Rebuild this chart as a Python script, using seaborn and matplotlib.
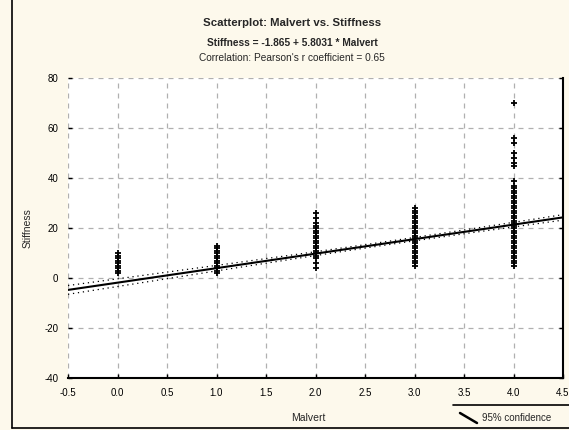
import numpy as np
import pandas as pd
import matplotlib
matplotlib.use("Agg")
import matplotlib.pyplot as plt
import seaborn as sns
from matplotlib.lines import Line2D

# ---------------- data ----------------
TITLE = "Scatterplot: Malvert vs. Stiffness"
EQUATION = "Stiffness = -1.865 + 5.8031 * Malvert"
CORR_TEXT = "Correlation: Pearson's r coefficient = 0.65"
X_LABEL = "Malvert"
Y_LABEL = "Stiffness"
LEGEND_LABEL = "95% confidence"

INTERCEPT = -1.865
SLOPE = 5.8031

x_ticks = [-0.5, 0.0, 0.5, 1.0, 1.5, 2.0, 2.5, 3.0, 3.5, 4.0, 4.5]
x_tick_labels = ["-0.5", "0.0", "0.5", "1.0", "1.5", "2.0", "2.5", "3.0", "3.5", "4.0", "4.5"]
y_ticks = [-40, -20, 0, 20, 40, 60, 80]
y_tick_labels = ["-40", "-20", "0", "20", "40", "60", "80"]

malvert_levels = [0, 1, 2, 3, 4]
stiffness_at_0 = [2, 3, 4, 5, 6, 7, 8, 9, 10]
stiffness_at_1 = [2, 3, 4, 5, 6, 7, 8, 9, 10, 11, 12, 13]
stiffness_at_2 = [4, 6, 8, 9, 10, 11, 12, 13, 14, 15, 16, 17, 18, 19, 20, 21, 22, 24, 26]
stiffness_at_3 = [5, 6, 7, 8, 9, 10, 11, 12, 13, 14, 15, 16, 17, 18, 19, 20,
                  21, 22, 23, 24, 25, 26, 27, 28]
stiffness_at_4 = [5, 6, 7, 8, 9, 10, 11, 12, 13, 14, 15, 16, 17, 18, 19, 20, 21,
                  22, 23, 24, 25, 26, 27, 28, 29, 30, 31, 32, 33, 34, 35, 36, 37,
                  39, 45, 46, 48, 50, 54, 56, 70]
# number of cases behind each column (many overlap on the plot)
cases_per_column = [100, 150, 200, 250, 500]

columns = [stiffness_at_0, stiffness_at_1, stiffness_at_2, stiffness_at_3, stiffness_at_4]
rows = []
for lvl, vals, n in zip(malvert_levels, columns, cases_per_column):
    w = n / len(vals)
    for v in vals:
        rows.append((lvl, v, w))
df = pd.DataFrame(rows, columns=["Malvert", "Stiffness", "weight"])

# regression line and 95% confidence band
xs = np.linspace(x_ticks[0], x_ticks[-1], 200)
fit = INTERCEPT + SLOPE * xs
wts = df["weight"].to_numpy()
xv = df["Malvert"].to_numpy(float)
yv = df["Stiffness"].to_numpy(float)
N = wts.sum()
resid = yv - (INTERCEPT + SLOPE * xv)
s = np.sqrt((wts * resid ** 2).sum() / (N - 2))
xbar = (wts * xv).sum() / N
sxx = (wts * (xv - xbar) ** 2).sum()
se = s * np.sqrt(1.0 / N + (xs - xbar) ** 2 / sxx)
band = pd.DataFrame({"x": xs, "fit": fit, "lo": fit - 1.96 * se, "hi": fit + 1.96 * se})

# ---------------- plot ----------------
W, H = 569, 430
sns.set_theme(style="white")
plt.rcParams["font.family"] = ["Liberation Sans", "DejaVu Sans"]
BG = "#fdf9ec"
fig = plt.figure(figsize=(W / 100, H / 100), dpi=100, facecolor=BG)
ax = fig.add_axes([68 / W, 1 - 378 / H, (563 - 68) / W, (378 - 78) / H])
ax.set_facecolor("white")

sns.scatterplot(data=df, x="Malvert", y="Stiffness", marker="+", s=16,
                color="black", linewidth=1.3, ax=ax, legend=False, zorder=3)
sns.lineplot(data=band, x="x", y="fit", color="black", lw=1.5, ax=ax, zorder=4)
for col in ["lo", "hi"]:
    sns.lineplot(data=band, x="x", y=col, color="black", lw=0.9,
                 linestyle=(0, (1, 3)), ax=ax, zorder=4)

ax.set_xlim(x_ticks[0], x_ticks[-1])
ax.set_ylim(y_ticks[0], y_ticks[-1])
ax.set_xticks(x_ticks)
ax.set_xticklabels(x_tick_labels)
ax.set_yticks(y_ticks)
ax.set_yticklabels(y_tick_labels)
ax.grid(True, color="#b0b0b0", linestyle=(0, (4, 4)), lw=0.9)
ax.set_axisbelow(True)
ax.tick_params(axis="both", labelsize=7, colors="black", direction="in", length=3,
               width=1, pad=7)
ax.tick_params(axis="y", left=True, right=True)
ax.tick_params(axis="x", bottom=True)
ax.set_xlabel("")
ax.set_ylabel("")
for side in ["top", "left"]:
    ax.spines[side].set_visible(False)
for side in ["bottom", "right"]:
    ax.spines[side].set_visible(True)
    ax.spines[side].set_color("black")
    ax.spines[side].set_linewidth(1.5)

# titles
fig.text(292 / W, 1 - 23 / H, TITLE, ha="center", va="center", fontsize=8.2, fontweight="bold")
fig.text(292 / W, 1 - 43 / H, EQUATION, ha="center", va="center", fontsize=7.3, fontweight="bold")
fig.text(292 / W, 1 - 58 / H, CORR_TEXT, ha="center", va="center", fontsize=7.3)

# axis labels
fig.text(308 / W, 1 - 418 / H, X_LABEL, ha="center", va="center", fontsize=7.5)
fig.text(28 / W, 1 - 228 / H, Y_LABEL, ha="center", va="center", fontsize=7.5, rotation=90)

# frame lines
fig.add_artist(Line2D([12 / W, 12 / W], [1 - 428 / H, 1], color="black", lw=1.2))
fig.add_artist(Line2D([12 / W, 1], [1 - 428 / H, 1 - 428 / H], color="black", lw=1.2))

# legend
fig.add_artist(Line2D([453 / W, 1], [1 - 405 / H, 1 - 405 / H], color="black", lw=1.2))
fig.add_artist(Line2D([460 / W, 477 / W], [1 - 413 / H, 1 - 423 / H], color="black", lw=1.8))
fig.text(482 / W, 1 - 418 / H, LEGEND_LABEL, ha="left", va="center", fontsize=7)

fig.savefig("out.png", dpi=100, facecolor=BG)
